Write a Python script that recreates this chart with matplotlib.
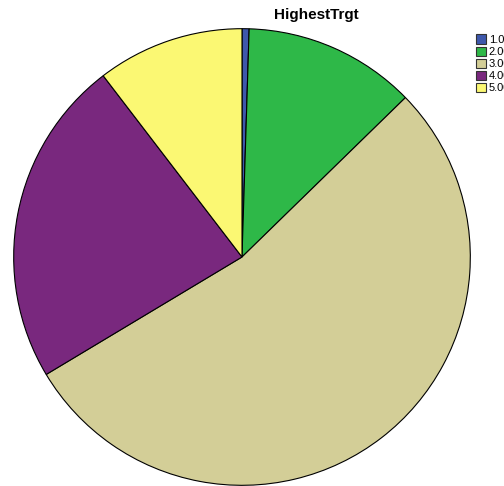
import matplotlib.pyplot as plt

# HighestTrgt share per category (percent)
categories = ["1.00", "2.00", "3.00", "4.00", "5.00"]
shares = [0.5, 12.2, 53.7, 23.2, 10.4]
colors = ["#3E58AC", "#2EB848", "#D3CE97", "#79287E", "#FBF873"]

W, H = 504, 486
fig = plt.figure(figsize=(W / 100, H / 100), dpi=100)

cx, cy, r = 242, 257, 229
ax = fig.add_axes([(cx - r) / W, (H - cy - r) / H, 2 * r / W, 2 * r / H])
wedges, _ = ax.pie(shares, colors=colors, startangle=90, counterclock=False,
                   radius=1.0, wedgeprops=dict(edgecolor="black", linewidth=0.8))
ax.set_xlim(-1.003, 1.003)
ax.set_ylim(-1.003, 1.003)
ax.set_aspect("equal")
ax.axis("off")

fig.text(316 / W, 1 - 15 / H, "HighestTrgt", ha="center", va="center",
         fontsize=11, fontweight="bold", family="Liberation Sans")

leg = fig.legend(wedges, categories, loc="upper left",
                 bbox_to_anchor=(472 / W, 1 - 30 / H), frameon=False,
                 prop=dict(family="Liberation Sans", size=8),
                 handlelength=0.9, handleheight=0.9, handletextpad=0.2,
                 labelspacing=0.15, borderaxespad=0)
for h in leg.legend_handles:
    h.set_edgecolor("#333333")
    h.set_linewidth(0.8)

fig.savefig("out.png", dpi=100)
